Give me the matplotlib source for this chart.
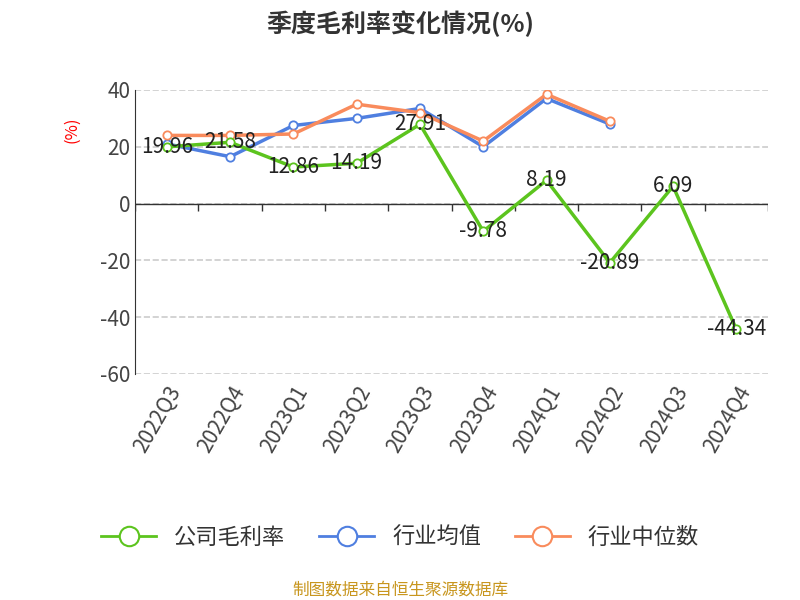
import matplotlib
matplotlib.use("Agg")
import matplotlib.pyplot as plt
import numpy as np
from matplotlib import font_manager

names = {f.name for f in font_manager.fontManager.ttflist}
cjk = [n for n in ["Noto Sans CJK SC", "Noto Sans CJK JP", "Noto Sans CJK TC", "Noto Sans CJK KR"] if n in names]
plt.rcParams['font.family'] = cjk + ['DejaVu Sans']
plt.rcParams['axes.unicode_minus'] = False

quarters = ["2022Q3","2022Q4","2023Q1","2023Q2","2023Q3","2023Q4","2024Q1","2024Q2","2024Q3","2024Q4"]
company = [19.96, 21.58, 12.86, 14.19, 27.91, -9.78, 8.19, -20.89, 6.09, -44.34]
industry_avg = [21.0, 16.5, 27.5, 30.0, 33.5, 20.0, 37.0, 28.0]
industry_med = [24.0, 24.0, 24.5, 35.0, 32.0, 22.0, 38.5, 29.0]

fig = plt.figure(figsize=(8, 6), dpi=100)
ax = fig.add_axes([0.169, 0.377, 0.791, 0.473])
x = np.arange(len(quarters))
ax.plot(x[:len(industry_avg)], industry_avg, color='#4f7fe0', lw=2.5, marker='o', ms=6, mfc='white', mew=1.3, zorder=3)
ax.plot(x[:len(industry_med)], industry_med, color='#f98b5c', lw=2.5, marker='o', ms=6, mfc='white', mew=1.3, zorder=4)
ax.plot(x, company, color='#5cc41e', lw=2.5, marker='o', ms=6, mfc='white', mew=1.3, zorder=5)
for i, v in enumerate(company):
    ax.text(i, v, f"{v:.2f}", ha='center', va='center', fontsize=15, color='#222222', zorder=6)

ax.set_xlim(-0.5, len(quarters) - 0.5)
ax.set_ylim(-60, 40)
ax.set_yticks([-60, -40, -20, 0, 20, 40])
ax.tick_params(axis='y', length=0, labelsize=15, colors='#444444')
ax.set_xticks(x)
ax.set_xticklabels(quarters, rotation=60, ha='right', rotation_mode='anchor', fontsize=15, color='#444444')
ax.tick_params(axis='x', length=0, pad=6)
ax.grid(axis='y', ls='--', color='#cccccc', lw=1.2)
for s in ['top', 'right', 'bottom']:
    ax.spines[s].set_visible(False)
ax.spines['left'].set_color('#333333')
ax.axhline(0, color='#333333', lw=1, zorder=2)
ax.vlines(np.arange(-0.5, len(quarters), 1), -2.5, 0, color='#333333', lw=1, zorder=2)
ax.set_axisbelow(True)
ax.text(-0.1, 0.86, "(%)", transform=ax.transAxes, rotation=90, color='red', fontsize=12, ha='center', va='center')

fig.text(0.5, 0.96, "季度毛利率变化情况(%)", ha='center', va='center', fontsize=18, fontweight='bold', color='#333333')

from matplotlib.lines import Line2D
handles = [Line2D([], [], color=c, lw=2, marker='o', ms=14, mfc='white', mew=1.5) for c in ['#5cc41e', '#4f7fe0', '#f98b5c']]
fig.legend(handles, ["公司毛利率", "行业均值", "行业中位数"], loc='center', bbox_to_anchor=(0.5, 0.105), ncol=3, frameon=False, fontsize=16, handlelength=2.5, columnspacing=1.5, labelcolor='#333333')
fig.text(0.5, 0.017, "制图数据来自恒生聚源数据库", ha='center', va='center', fontsize=12, color='#c8961e')
fig.savefig("out.png", dpi=100)
